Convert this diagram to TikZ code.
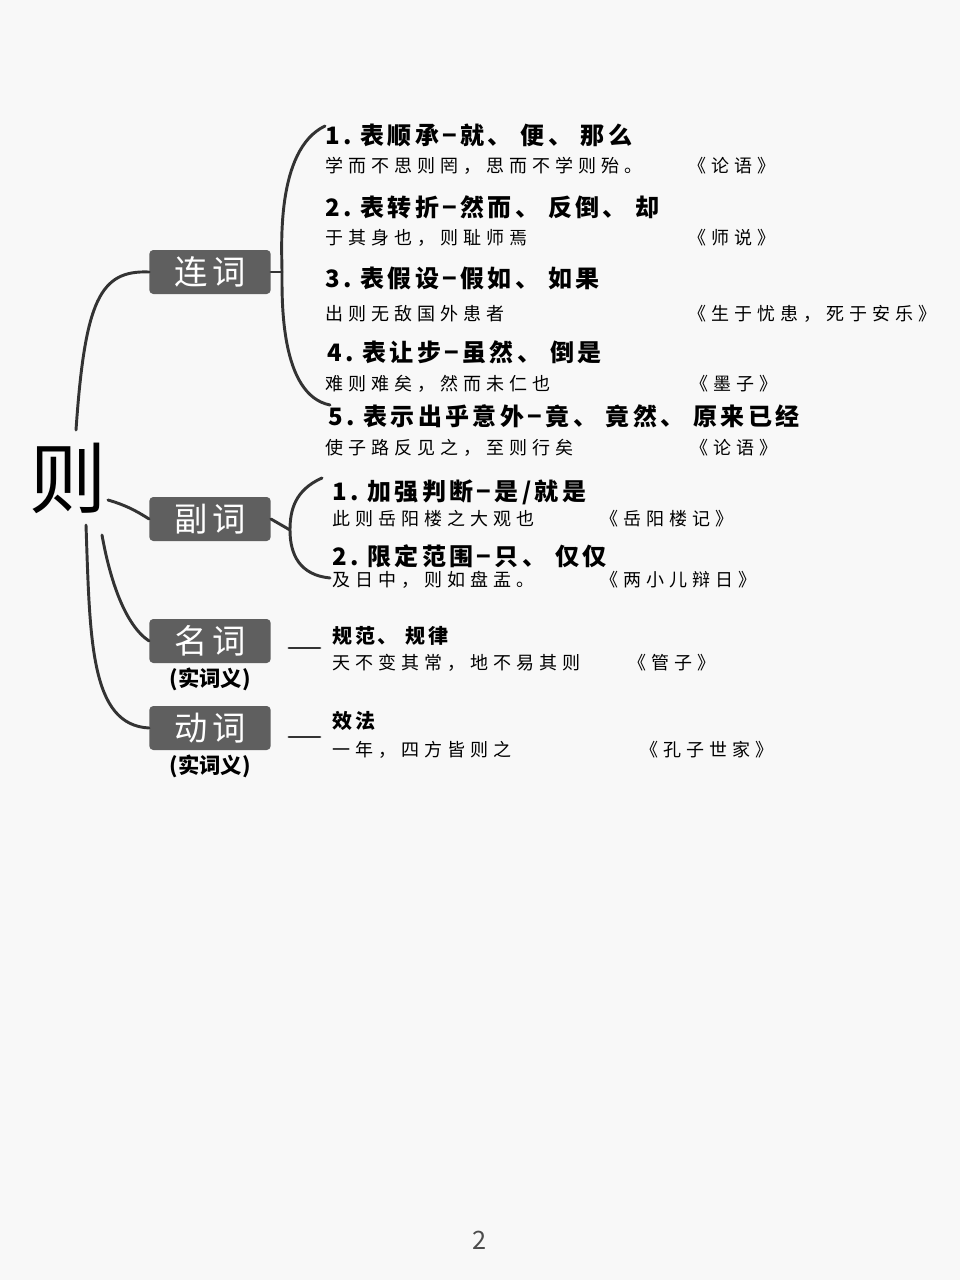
\documentclass[tikz,border=0pt]{standalone}
\usepackage{fontspec}
\setmainfont{Noto Sans CJK SC}
\newfontfamily\cjk{Noto Sans CJK SC}
\newfontfamily\cjkwide[LetterSpace=28]{Noto Sans CJK SC}
\newfontfamily\cjkhead[LetterSpace=14]{Noto Sans CJK SC}
\usetikzlibrary{calc, positioning}
\definecolor{boxgray}{HTML}{5F5F5F}
\definecolor{bggray}{HTML}{F8F8F8}
\tikzset{
    wordBox/.style={rectangle, rounded corners=3pt, fill=boxgray, text=white, minimum width=91pt, minimum height=33pt, font=\cjkhead\fontsize{25}{25}\selectfont, inner sep=0pt},
    heading/.style={anchor=west, inner sep=0pt, font=\cjkhead\bfseries\fontsize{18}{18}\selectfont},
    example/.style={anchor=west, inner sep=0pt, font=\cjkwide\fontsize{13.5}{14}\selectfont},
    note/.style={inner sep=0pt, font=\cjk\bfseries\fontsize{16}{16}\selectfont},
    link/.style={draw=black!80, line width=2.2pt, line cap=round}
}
\begin{document}
\begin{tikzpicture}[x=0.75pt, y=-0.75pt]
    % Canvas
    \fill[bggray] (0,0) rectangle (960,1280);
    \useasboundingbox (0,0) rectangle (960,1280);

    % Root and word classes
    \node[inner sep=0pt, font=\cjk\fontsize{58}{58}\selectfont] (root) at (68,478) {则};
    \node[wordBox] (conj) at (210,272) {连词};
    \node[wordBox] (adv) at (210,519) {副词};
    \node[wordBox] (noun) at (210,641) {名词};
    \node[note, below=3pt of noun] (nounNote) {(实词义)};
    \node[wordBox] (verb) at (210,728) {动词};
    \node[note, below=3pt of verb] (verbNote) {(实词义)};

    % Branches from root
    \draw[link] (76,430) .. controls (85,300) and (100,270) .. (conj.west);
    \draw[link] (108,500) .. controls (125,505) and (135,510) .. (adv.west);
    \draw[link] (102,535) .. controls (110,580) and (125,625) .. (noun.west);
    \draw[link] (86,525) .. controls (90,640) and (90,725) .. (verb.west);

    % Brackets
    \draw[link] (conj.east) -- (282,272);
    \draw[link] (325,126) .. controls (275,150) and (282,250) .. (282,272)
                .. controls (282,300) and (280,395) .. (330,405);
    \draw[link] (adv.east) -- (290,530);
    \draw[link] (322,478) .. controls (295,490) and (290,510) .. (290,530)
                .. controls (290,555) and (300,575) .. (330,578);
    \coordinate (nounEnd) at (320,648);
    \coordinate (verbEnd) at (320,737);
    \draw[link] ($(noun.east)+(18,7)$) -- (nounEnd);
    \draw[link] ($(verb.east)+(18,9)$) -- (verbEnd);

    % Conjunction senses
    \node[heading] (c1) at (325,135) {1.~表顺承−就、~便、~那么};
    \node[example] (c1e) at (325,166) {学而不思则罔，思而不学则殆。};
    \node[example] (c1b) at (688,166) {《论语》};
    \node[heading] (c2) at (325,207) {2.~表转折−然而、~反倒、~却};
    \node[example] (c2e) at (325,238) {于其身也，则耻师焉};
    \node[example] (c2b) at (688,238) {《师说》};
    \node[heading] (c3) at (325,278) {3.~表假设−假如、~如果};
    \node[example] (c3e) at (325,314) {出则无敌国外患者};
    \node[example] (c3b) at (688,314) {《生于忧患，死于安乐》};
    \node[heading] (c4) at (327,352) {4.~表让步−虽然、~倒是};
    \node[example] (c4e) at (325,384) {难则难矣，然而未仁也};
    \node[example] (c4b) at (690,384) {《墨子》};
    \node[heading] (c5) at (328,416) {5.~表示出乎意外−竟、~竟然、~原来已经};
    \node[example] (c5e) at (325,448) {使子路反见之，至则行矣};
    \node[example] (c5b) at (690,448) {《论语》};

    % Adverb senses
    \node[heading] (a1) at (332,492) {1.~加强判断−是/就是};
    \node[example] (a1e) at (332,519) {此则岳阳楼之大观也};
    \node[example] (a1b) at (600,519) {《岳阳楼记》};
    \node[heading] (a2) at (332,556) {2.~限定范围−只、~仅仅};
    \node[example] (a2e) at (332,580) {及日中，则如盘盂。};
    \node[example] (a2b) at (600,580) {《两小儿辩日》};

    % Noun and verb senses
    \node[heading, font=\cjkhead\bfseries\fontsize{15}{15}\selectfont] (n1) at (332,636) {规范、~规律};
    \node[example] (n1e) at (332,663) {天不变其常，地不易其则};
    \node[example] (n1b) at (628,663) {《管子》};
    \node[heading, font=\cjkhead\bfseries\fontsize{15}{15}\selectfont] (v1) at (332,721) {效法};
    \node[example] (v1e) at (332,750) {一年，四方皆则之};
    \node[example] (v1b) at (640,750) {《孔子世家》};

    % Page number
    \node[inner sep=0pt, text=black!70, font=\cjk\fontsize{19}{19}\selectfont] (page) at (480,1240) {2};
\end{tikzpicture}
\end{document}
